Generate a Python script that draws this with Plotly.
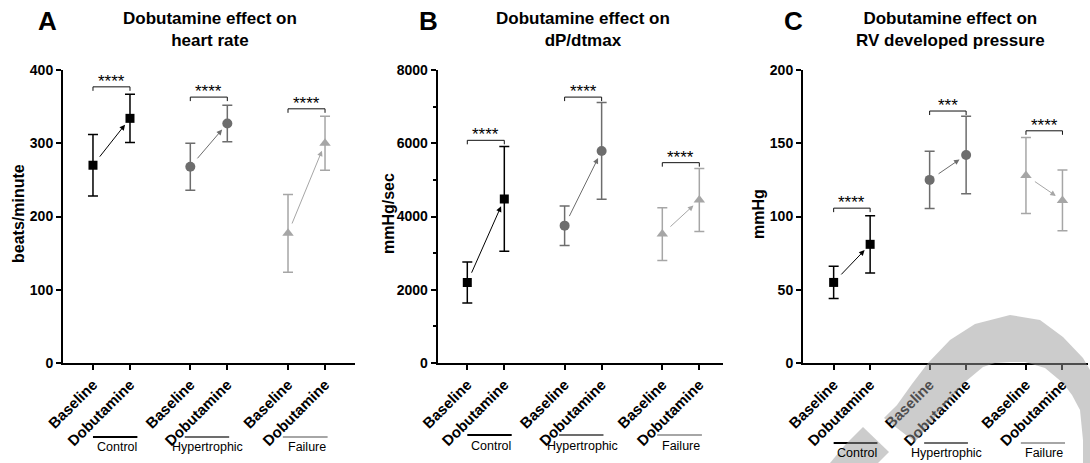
import plotly.graph_objects as go

W, H = 1090, 463
F = "Liberation Sans, Arial, sans-serif"

# ---------------- data ----------------
categories = ["Baseline", "Dobutamine", "Baseline", "Dobutamine", "Baseline", "Dobutamine"]
groups = ["Control", "Hypertrophic", "Failure"]

hr_mean = [270, 334, 268, 327, 177, 300]
hr_err = [42, 33, 32, 25, 53, 37]
hr_sig = ["****", "****", "****"]
hr_bracket = [377, 363, 347]

dpdt_mean = [2200, 4480, 3750, 5790, 3520, 4450]
dpdt_err = [560, 1430, 540, 1320, 720, 860]
dpdt_sig = ["****", "****", "****"]
dpdt_bracket = [6080, 7260, 5470]

rvp_mean = [55, 81, 125, 142, 128, 111]
rvp_err = [11, 19.5, 19.5, 26.5, 26, 20.7]
rvp_sig = ["****", "***", "****"]
rvp_bracket = [105.7, 172, 158.5]

hr_ticks = [0, 100, 200, 300, 400]
dpdt_ticks = [0, 2000, 4000, 6000, 8000]
dpdt_minor = [1000, 3000, 5000, 7000]
rvp_ticks = [0, 50, 100, 150, 200]

# ---------------- style ----------------
group_colors = ["#000000", "#6d6d6d", "#a6a6a6"]
group_symbols = ["square", "circle", "triangle-up"]
group_msize = [9, 10, 10]
group_offset = [0, 2.63, 5.27]          # x position of each group's baseline
line_ext = [(0.0, 1.2), (-0.15, 1.05), (-0.14, 1.07)]
label_ctr = [0.65, 0.47, 0.5]

pos = []
for g in group_offset:
    pos += [g, g + 1]

def py(p):
    return 1 - p / H

def pxx(p):
    return p / W

y_bot, y_top = 363, 70
panels = [
    dict(dom=(63, 355), xr=(-0.81, 7.08), mean=hr_mean, err=hr_err, sig=hr_sig, br=hr_bracket,
         ymax=400, ticks=hr_ticks, minor=None, ytitle="beats/minute", ytx=18,
         title="Dobutamine effect on<br>heart rate", tx=210, letter="A", lx=47, gl_line=437, gl_text=447),
    dict(dom=(437.7, 723), xr=(-0.80, 6.91), mean=dpdt_mean, err=dpdt_err, sig=dpdt_sig, br=dpdt_bracket,
         ymax=8000, ticks=dpdt_ticks, minor=dpdt_minor, ytitle="mmHg/sec", ytx=388,
         title="Dobutamine effect on<br>dP/dtmax", tx=583, letter="B", lx=428, gl_line=435, gl_text=446),
    dict(dom=(803, 1088), xr=(-0.84, 6.97), mean=rvp_mean, err=rvp_err, sig=rvp_sig, br=rvp_bracket,
         ymax=200, ticks=rvp_ticks, minor=None, ytitle="mmHg", ytx=758,
         title="Dobutamine effect on<br>RV developed pressure", tx=950, letter="C", lx=793, gl_line=443, gl_text=453),
]

fig = go.Figure()
shapes = []
annotations = []
layout = {}

for i, p in enumerate(panels):
    sfx = "" if i == 0 else str(i + 1)
    xa, ya = "x" + sfx, "y" + sfx
    unit_y = p["ymax"] / (y_bot - y_top)   # data units per px

    layout["xaxis" + sfx] = dict(
        domain=[pxx(p["dom"][0]), pxx(p["dom"][1])], range=list(p["xr"]), anchor=ya,
        tickmode="array", tickvals=pos, ticktext=categories, tickangle=-45,
        ticks="outside", ticklen=5, tickwidth=2, tickcolor="black", automargin=False,
        showline=True, linewidth=2, linecolor="black", showgrid=False, zeroline=False,
        tickfont=dict(family=F, size=15, color="black", weight="bold"), fixedrange=True)
    yax = dict(
        domain=[py(y_bot), py(y_top)], range=[0, p["ymax"]], anchor=xa,
        tickmode="array", tickvals=p["ticks"], ticktext=[str(t) for t in p["ticks"]],
        ticks="outside", ticklen=5, tickwidth=2, tickcolor="black", automargin=False,
        showline=True, linewidth=2, linecolor="black", showgrid=False, zeroline=False,
        tickfont=dict(family=F, size=14, color="black", weight="bold"), fixedrange=True)
    if p["minor"]:
        yax["minor"] = dict(tickmode="array", tickvals=p["minor"], ticks="outside",
                            ticklen=3, tickwidth=1.5, tickcolor="black", showgrid=False)
    layout["yaxis" + sfx] = yax

    for g in range(3):
        xs = pos[2 * g:2 * g + 2]
        ys = p["mean"][2 * g:2 * g + 2]
        es = p["err"][2 * g:2 * g + 2]
        c = group_colors[g]
        fig.add_trace(go.Scatter(
            x=xs, y=ys, mode="markers", xaxis=xa, yaxis=ya, showlegend=False, hoverinfo="skip",
            marker=dict(symbol=group_symbols[g], size=group_msize[g], color=c),
            error_y=dict(type="data", array=es, visible=True, color=c, thickness=1.5, width=5)))
        # arrow baseline -> dobutamine
        annotations.append(dict(
            x=xs[1], y=ys[1], ax=xs[0], ay=ys[0], xref=xa, yref=ya, axref=xa, ayref=ya,
            text="", showarrow=True, arrowhead=2, arrowsize=1.1, arrowwidth=1, arrowcolor=c,
            standoff=8, startstandoff=9))
        # significance bracket
        by = p["br"][g]
        d = 4 * unit_y
        shapes.append(dict(type="path", xref=xa, yref=ya,
                           path=f"M {xs[0]},{by - d} L {xs[0]},{by} L {xs[1]},{by} L {xs[1]},{by - d}",
                           line=dict(color="#111111", width=1)))
        annotations.append(dict(x=(xs[0] + xs[1]) / 2, y=by, xref=xa, yref=ya, text=p["sig"][g],
                                showarrow=False, yanchor="bottom", yshift=-6,
                                font=dict(family=F, size=17, color="black")))
        # group underline + label
        lo, hi = line_ext[g]
        shapes.append(dict(type="line", xref=xa, yref="paper", x0=xs[0] + lo, x1=xs[0] + hi,
                           y0=py(p["gl_line"]), y1=py(p["gl_line"]),
                           line=dict(color=c, width=2)))
        annotations.append(dict(x=xs[0] + label_ctr[g], y=py(p["gl_text"]), xref=xa, yref="paper",
                                text=groups[g], showarrow=False, yanchor="middle",
                                font=dict(family=F, size=12.5, color="black")))

    # titles, letters, y titles
    annotations.append(dict(x=pxx(p["tx"]), y=py(29), xref="paper", yref="paper", text=p["title"],
                            showarrow=False, xanchor="center", yanchor="middle", align="center",
                            font=dict(family=F, size=17, color="black", weight="bold")))
    annotations.append(dict(x=pxx(p["lx"]), y=py(21), xref="paper", yref="paper", text=p["letter"],
                            showarrow=False, xanchor="center", yanchor="middle",
                            font=dict(family=F, size=26, color="black", weight="bold")))
    annotations.append(dict(x=pxx(p["ytx"]), y=py(214), xref="paper", yref="paper", text=p["ytitle"],
                            showarrow=False, xanchor="center", yanchor="middle", textangle=-90,
                            font=dict(family=F, size=16, color="black", weight="bold")))

# ---------------- watermark (decorative grey band) ----------------
def poly(points):
    s = "M " + " L ".join(f"{pxx(a):.5f},{py(b):.5f}" for a, b in points) + " Z"
    return s

band = [(884, 418), (897, 405), (912, 384), (928, 363), (950, 340), (975, 324), (1010, 315),
        (1040, 320), (1063, 337), (1083, 358), (1090, 370), (1090, 463), (1083, 463),
        (1083, 440), (1080, 410), (1072, 395), (1063, 383), (1045, 368), (1025, 362),
        (1010, 362), (995, 363), (983, 367), (965, 382), (945, 405), (915, 442)]
tri = [(863, 427), (889, 452), (878, 463), (830, 463), (845, 445)]
for pts in (band, tri):
    shapes.append(dict(type="path", xref="paper", yref="paper", path=poly(pts),
                       fillcolor="#999999", opacity=0.5, line=dict(width=0), layer="above"))

fig.update_layout(
    width=W, height=H, margin=dict(l=0, r=0, t=0, b=0, autoexpand=False),
    paper_bgcolor="white", plot_bgcolor="white", hovermode=False,
    shapes=shapes, annotations=annotations, showlegend=False, **layout)

fig.write_html("out.html", config={"responsive": False, "displayModeBar": False},
               post_script="document.body.style.margin='0';document.body.style.padding='0';"
                           "document.body.style.overflow='hidden';")
